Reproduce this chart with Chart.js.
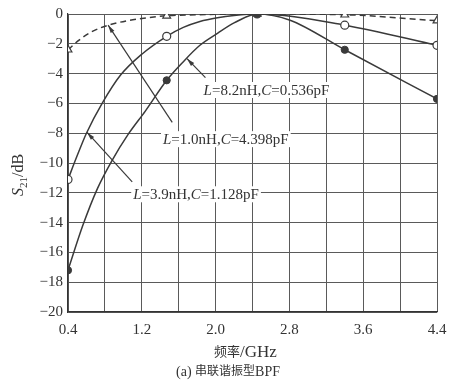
<!DOCTYPE html>
<html>
<head>
<meta charset="utf-8">
<script src="https://cdn.jsdelivr.net/npm/chart.js@4/dist/chart.umd.min.js"></script>
<style>
html,body{margin:0;padding:0;background:#ffffff;}
#wrap{width:466px;height:382px;}
</style>
</head>
<body>
<div id="wrap"><canvas id="c" width="466" height="382"></canvas></div>
<script>
// ---- data ----
// L=1.0nH, C=4.398pF (dashed, open triangles)
const freqA = [0.4, 0.52, 0.67, 0.84, 1.04, 1.2, 1.47, 1.8, 2.0, 2.45, 3.4, 4.4];
const s21A  = [-2.4, -1.75, -1.15, -0.75, -0.45, -0.3, -0.12, -0.05, -0.02, 0, -0.05, -0.45];
// L=3.9nH, C=1.128pF (solid, open circles)
const freqB = [0.4, 0.5, 0.6, 0.77, 0.97, 1.2, 1.47, 1.65, 1.83, 2.02, 2.2, 2.45, 3.4, 4.4];
const s21B  = [-11.1, -9.5, -8.0, -6.0, -4.1, -2.7, -1.5, -0.9, -0.5, -0.25, -0.1, 0, -0.75, -2.1];
// L=8.2nH, C=0.536pF (solid, filled circles)
const freqC = [0.4, 0.56, 0.72, 0.88, 1.05, 1.24, 1.47, 1.65, 1.83, 2.02, 2.2, 2.45, 2.8, 3.4, 4.4];
const s21C  = [-17.2, -14.2, -11.7, -9.8, -8.1, -6.5, -4.45, -3.2, -2.1, -1.3, -0.6, 0, -0.4, -2.4, -5.7];
// marker positions
const markFreq = [0.4, 1.47, 2.45, 3.4, 4.4];
const markA = [-2.4, -0.12, 0, -0.05, -0.45];
const markB = [-11.1, -1.5, 0, -0.75, -2.1];
const markC = [-17.2, -4.45, 0, -2.4, -5.7];
// axes
const xMin = 0.4, xMax = 4.4, xStep = 0.4;
const yMin = -20, yMax = 0, yStep = 2;
const xTitle = ['频率', '/GHz'];
const yTitleParts = ['S', '21', '/dB'];
const caption = ['(a) ', '串联谐振型', 'BPF'];
// annotations (data units)
const annText  = ['L=8.2nH,C=0.536pF', 'L=1.0nH,C=4.398pF', 'L=3.9nH,C=1.128pF'];
const annX     = [1.87, 1.43, 1.107];
const annY     = [-5.1, -8.4, -12.1];
const arrFromX = [1.89, 1.53, 1.096];
const arrFromY = [-4.27, -7.27, -11.27];
const arrToX   = [1.69, 0.835, 0.607];
const arrToY   = [-3.0, -0.75, -7.95];

const ink = '#3a3a3a';
const serif = '"Liberation Serif", "DejaVu Serif", serif';
const cjk = '"Noto Sans CJK SC", sans-serif';

function pts(xs, ys){ return xs.map((x,i)=>({x:x, y:ys[i]})); }

function drawRich(ctx, text, x, y, size){
  // italic for L and C followed by '='
  const parts = text.split(/([LC])(?==)/).filter(s=>s.length);
  let cx = x;
  for(const p of parts){
    const it = (p==='L'||p==='C');
    ctx.font = (it?'italic ':'') + size + 'px ' + serif;
    ctx.fillText(p, cx, y);
    cx += ctx.measureText(p).width;
  }
  return cx - x;
}
function richWidth(ctx, text, size){
  const parts = text.split(/([LC])(?==)/).filter(s=>s.length);
  let w = 0;
  for(const p of parts){
    const it = (p==='L'||p==='C');
    ctx.font = (it?'italic ':'') + size + 'px ' + serif;
    w += ctx.measureText(p).width;
  }
  return w;
}

const annPlugin = {
  id: 'ann',
  afterDatasetsDraw(chart){
    const ctx = chart.ctx, xs = chart.scales.x, ys = chart.scales.y;
    ctx.save();
    ctx.textBaseline = 'middle';
    ctx.textAlign = 'left';
    for(let i=0;i<annText.length;i++){
      const px = xs.getPixelForValue(annX[i]);
      const py = ys.getPixelForValue(annY[i]);
      const w = richWidth(ctx, annText[i], 15);
      ctx.fillStyle = '#ffffff';
      ctx.fillRect(px-2, py-8, w+4, 16);
      ctx.fillStyle = '#333';
      drawRich(ctx, annText[i], px, py+1, 15);
      // arrow
      const x1 = xs.getPixelForValue(arrFromX[i]), y1 = ys.getPixelForValue(arrFromY[i]);
      const x2 = xs.getPixelForValue(arrToX[i]),   y2 = ys.getPixelForValue(arrToY[i]);
      ctx.strokeStyle = ink; ctx.lineWidth = 1.2;
      ctx.beginPath(); ctx.moveTo(x1,y1); ctx.lineTo(x2,y2); ctx.stroke();
      const a = Math.atan2(y2-y1, x2-x1), L = 8, H = 2.2;
      ctx.fillStyle = ink;
      ctx.beginPath();
      ctx.moveTo(x2,y2);
      ctx.lineTo(x2 - L*Math.cos(a) + H*Math.sin(a), y2 - L*Math.sin(a) - H*Math.cos(a));
      ctx.lineTo(x2 - L*Math.cos(a) - H*Math.sin(a), y2 - L*Math.sin(a) + H*Math.cos(a));
      ctx.closePath(); ctx.fill();
    }
    ctx.restore();
  },
  afterDraw(chart){
    const ctx = chart.ctx, area = chart.chartArea;
    ctx.save();
    ctx.fillStyle = '#333';
    ctx.textBaseline = 'alphabetic';
    ctx.textAlign = 'left';
    // x title
    const cxm = (area.left+area.right)/2 - 7;
    ctx.font = '13px ' + cjk; const w1 = ctx.measureText(xTitle[0]).width;
    ctx.font = '17px ' + serif; const w2 = ctx.measureText(xTitle[1]).width;
    let sx = cxm - (w1+w2)/2, by = 357;
    ctx.font = '13px ' + cjk; ctx.fillText(xTitle[0], sx, by-1);
    ctx.font = '17px ' + serif; ctx.fillText(xTitle[1], sx+w1, by);
    // caption
    ctx.font = '14px ' + serif; const c1 = ctx.measureText(caption[0]).width;
    ctx.font = '12px ' + cjk; const c2 = ctx.measureText(caption[1]).width;
    ctx.font = '14px ' + serif; const c3 = ctx.measureText(caption[2]).width;
    sx = 228 - (c1+c2+c3)/2; by = 376;
    ctx.font = '14px ' + serif; ctx.fillText(caption[0], sx, by);
    ctx.font = '12px ' + cjk; ctx.fillText(caption[1], sx+c1, by-1);
    ctx.font = '14px ' + serif; ctx.fillText(caption[2], sx+c1+c2, by);
    // y title rotated
    ctx.translate(23, 175);
    ctx.rotate(-Math.PI/2);
    ctx.font = 'italic 16px ' + serif; const t1 = ctx.measureText(yTitleParts[0]).width;
    ctx.font = '11px ' + serif; const t2 = ctx.measureText(yTitleParts[1]).width;
    ctx.font = '16px ' + serif; const t3 = ctx.measureText(yTitleParts[2]).width;
    let tx = -(t1+t2+t3)/2;
    ctx.font = 'italic 16px ' + serif; ctx.fillText(yTitleParts[0], tx, 0);
    ctx.font = '11px ' + serif; ctx.fillText(yTitleParts[1], tx+t1, 4);
    ctx.font = '16px ' + serif; ctx.fillText(yTitleParts[2], tx+t1+t2, 0);
    ctx.restore();
  }
};

const lineBase = {
  showLine: true, pointRadius: 0, borderColor: ink, borderWidth: 1.5,
  cubicInterpolationMode: 'monotone', fill: false
};

new Chart(document.getElementById('c'), {
  type: 'scatter',
  data: {
    datasets: [
      {data: pts(markFreq, markC), showLine:false, pointStyle:'circle', pointRadius:3.6, backgroundColor: ink, borderColor: ink, borderWidth:1},
      {data: pts(markFreq, markB), showLine:false, pointStyle:'circle', pointRadius:4, backgroundColor:'#ffffff', borderColor: ink, borderWidth:1.2},
      {data: pts(markFreq, markA), showLine:false, pointStyle:'triangle', pointRadius:4.5, backgroundColor:'#ffffff', borderColor: ink, borderWidth:1.2},
      Object.assign({data: pts(freqC, s21C)}, lineBase),
      Object.assign({data: pts(freqB, s21B)}, lineBase),
      Object.assign({data: pts(freqA, s21A), borderDash:[6,4]}, lineBase)
    ]
  },
  options: {
    responsive: false,
    animation: false,
    devicePixelRatio: 1,
    layout: { padding: { top: 11, right: 29, left: 0, bottom: 0 } },
    plugins: { legend: {display:false}, tooltip: {enabled:false} },
    scales: {
      x: {
        type: 'linear', min: xMin, max: xMax,
        afterFit(s){ s.height = 70; },
        grid: { color: '#5a5a5a', lineWidth: 1, drawTicks: false },
        border: { color: '#333', width: 1.2 },
        ticks: {
          stepSize: xStep, autoSkip: false, maxRotation: 0, padding: 9,
          color: '#333', font: { family: serif, size: 15 },
          callback(v){ const k = Math.round((v-xMin)/xStep); return k%2===0 ? v.toFixed(1) : ''; }
        }
      },
      y: {
        type: 'linear', min: yMin, max: yMax,
        afterFit(s){ s.width = 68; },
        grid: { color: '#5a5a5a', lineWidth: 1, drawTicks: false },
        border: { color: '#333', width: 1.2 },
        ticks: {
          stepSize: yStep, padding: 5,
          color: '#333', font: { family: serif, size: 15 },
          callback(v){ return v < 0 ? '\u2212' + Math.abs(v) : String(v); }
        }
      }
    }
  },
  plugins: [annPlugin]
});
</script>
</body>
</html>
